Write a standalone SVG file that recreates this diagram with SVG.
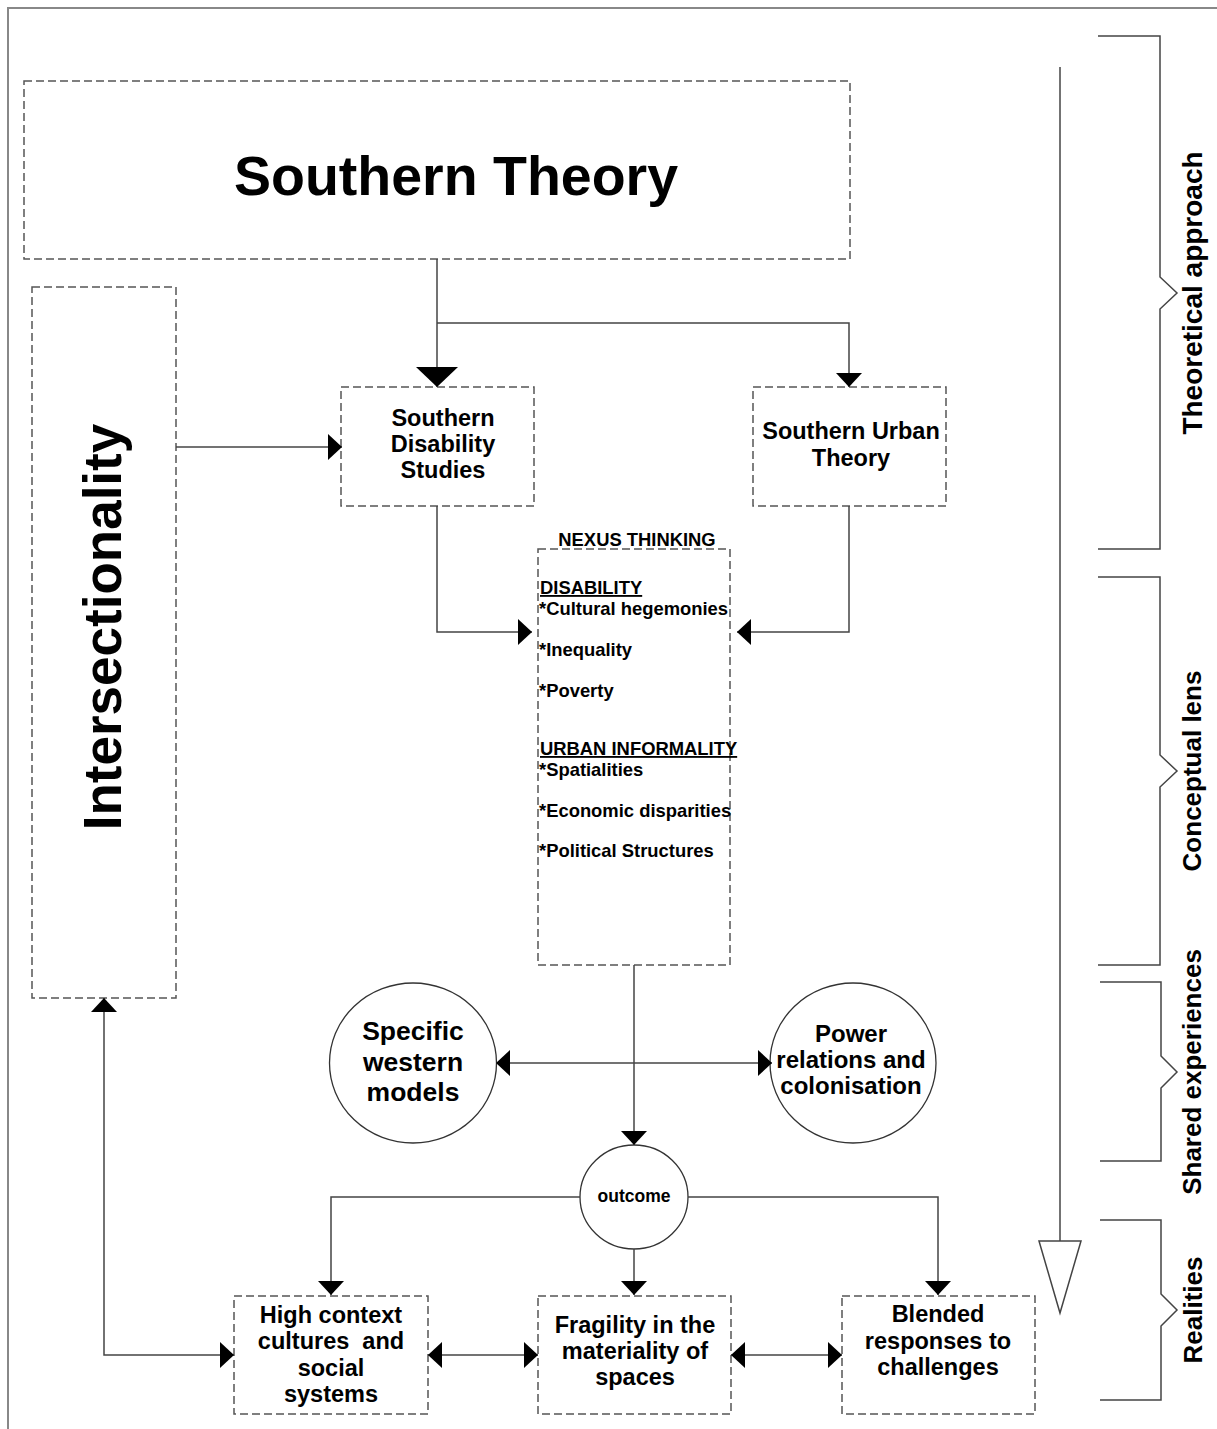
<svg xmlns="http://www.w3.org/2000/svg" width="1217" height="1429" viewBox="0 0 1217 1429">
  <style>
    .box { fill: #fff; stroke: #555; stroke-width: 1.5; stroke-dasharray: 8 4; }
    .ell { fill: #fff; stroke: #333; stroke-width: 1.3; }
    .ln { fill: none; stroke: #444; stroke-width: 1.5; }
    .frame { fill: none; stroke: #888; stroke-width: 2; }
    text { font-family: "Liberation Sans", Arial, sans-serif; font-weight: bold; fill: #000; }
    .c { text-anchor: middle; }
    .lbl { font-size: 23.5px; }
    .nx { font-size: 18.4px; }
    .side { font-size: 26px; text-anchor: middle; }
    .side.big { font-size: 28px; }
  </style>
  <defs>
    <marker id="ah" viewBox="0 0 14 26" refX="14" refY="13" markerWidth="14" markerHeight="26" orient="auto-start-reverse" markerUnits="userSpaceOnUse">
      <path d="M0,0 L14,13 L0,26 Z" fill="#000"/>
    </marker>
    <marker id="ahBig" viewBox="0 0 20 42" refX="20" refY="21" markerWidth="20" markerHeight="42" orient="auto" markerUnits="userSpaceOnUse">
      <path d="M0,0 L20,21 L0,42 Z" fill="#000"/>
    </marker>
  </defs>

  <rect width="1217" height="1429" fill="#fff"/>

  <g id="frame">
    <path class="frame" d="M8,1429 V8 H1217"/>
  </g>

  <g id="southern-theory">
    <rect class="box" x="24" y="81" width="826" height="178"/>
    <text class="c" x="456" y="195" font-size="55.5">Southern Theory</text>
  </g>

  <g id="intersectionality">
    <rect class="box" x="32" y="287" width="144" height="711"/>
    <text class="c" transform="translate(121,627) rotate(-90)" font-size="53">Intersectionality</text>
  </g>

  <g id="southern-disability-studies">
    <rect class="box" x="341" y="387" width="193" height="119"/>
    <text class="c lbl" x="443" y="426">Southern</text>
    <text class="c lbl" x="443" y="452">Disability</text>
    <text class="c lbl" x="443" y="478">Studies</text>
  </g>

  <g id="southern-urban-theory">
    <rect class="box" x="753" y="387" width="193" height="119"/>
    <text class="c lbl" x="851" y="439">Southern Urban</text>
    <text class="c lbl" x="851" y="466">Theory</text>
  </g>

  <g id="nexus-thinking">
    <text class="c nx" x="637" y="546">NEXUS THINKING</text>
    <rect class="box" x="538" y="549" width="192" height="416"/>
    <text class="nx" x="540" y="594" text-decoration="underline">DISABILITY</text>
    <text class="nx" x="539" y="615">*Cultural hegemonies</text>
    <text class="nx" x="539" y="656">*Inequality</text>
    <text class="nx" x="539" y="697">*Poverty</text>
    <text class="nx" x="540" y="755" text-decoration="underline">URBAN INFORMALITY</text>
    <text class="nx" x="539" y="776">*Spatialities</text>
    <text class="nx" x="539" y="817">*Economic disparities</text>
    <text class="nx" x="539" y="857">*Political Structures</text>
  </g>

  <g id="specific-western-models">
    <ellipse class="ell" cx="413" cy="1063" rx="83.5" ry="80"/>
    <text class="c" x="413" y="1040" font-size="26.5">Specific</text>
    <text class="c" x="413" y="1071" font-size="26.5">western</text>
    <text class="c" x="413" y="1101" font-size="26.5">models</text>
  </g>

  <g id="power-relations">
    <ellipse class="ell" cx="853" cy="1063" rx="83" ry="80"/>
    <text class="c" x="851" y="1042" font-size="24">Power</text>
    <text class="c" x="851" y="1068" font-size="24">relations and</text>
    <text class="c" x="851" y="1094" font-size="24">colonisation</text>
  </g>

  <g id="outcome">
    <ellipse class="ell" cx="634" cy="1197" rx="54" ry="52"/>
    <text class="c" x="634" y="1202" font-size="17.5">outcome</text>
  </g>

  <g id="high-context">
    <rect class="box" x="234" y="1296" width="194" height="118"/>
    <text class="c lbl" x="331" y="1323">High context</text>
    <text class="c lbl" x="331" y="1349" xml:space="preserve">cultures  and</text>
    <text class="c lbl" x="331" y="1376">social</text>
    <text class="c lbl" x="331" y="1402">systems</text>
  </g>

  <g id="fragility">
    <rect class="box" x="538" y="1296" width="193" height="118"/>
    <text class="c lbl" x="635" y="1333">Fragility in the</text>
    <text class="c lbl" x="635" y="1359">materiality of</text>
    <text class="c lbl" x="635" y="1385">spaces</text>
  </g>

  <g id="blended">
    <rect class="box" x="842" y="1296" width="193" height="118"/>
    <text class="c lbl" x="938" y="1322">Blended</text>
    <text class="c lbl" x="938" y="1349">responses to</text>
    <text class="c lbl" x="938" y="1375">challenges</text>
  </g>

  <g id="connectors">
    <path class="ln" d="M437,259 V387" marker-end="url(#ahBig)"/>
    <path class="ln" d="M437,323 H849 V387" marker-end="url(#ah)"/>
    <path class="ln" d="M176,447 H342" marker-end="url(#ah)"/>
    <path class="ln" d="M437,506 V632 H532" marker-end="url(#ah)"/>
    <path class="ln" d="M849,506 V632 H737" marker-end="url(#ah)"/>
    <path class="ln" d="M634,965 V1145" marker-end="url(#ah)"/>
    <path class="ln" d="M496,1063 H772" marker-start="url(#ah)" marker-end="url(#ah)"/>
    <path class="ln" d="M580,1197 H331 V1295" marker-end="url(#ah)"/>
    <path class="ln" d="M634,1249 V1295" marker-end="url(#ah)"/>
    <path class="ln" d="M688,1197 H938 V1295" marker-end="url(#ah)"/>
    <path class="ln" d="M428,1355 H538" marker-start="url(#ah)" marker-end="url(#ah)"/>
    <path class="ln" d="M731,1355 H842" marker-start="url(#ah)" marker-end="url(#ah)"/>
    <path class="ln" d="M104,998 V1355 H234" marker-start="url(#ah)" marker-end="url(#ah)"/>
  </g>

  <g id="progress-arrow">
    <path class="ln" d="M1060,67 V1241"/>
    <path d="M1039,1241 H1081 L1060,1313 Z" fill="#fff" stroke="#444" stroke-width="1.5"/>
  </g>

  <g id="bracket-theoretical">
    <path class="ln" d="M1098,36 H1160 V277 L1177,293 L1160,309 V549 H1098"/>
    <text class="side big" transform="translate(1202,293) rotate(-90)">Theoretical approach</text>
  </g>
  <g id="bracket-conceptual">
    <path class="ln" d="M1098,577 H1160 V755 L1177,771 L1160,787 V965 H1098"/>
    <text class="side" transform="translate(1201,771) rotate(-90)">Conceptual lens</text>
  </g>
  <g id="bracket-shared">
    <path class="ln" d="M1100,982 H1161 V1056 L1177,1072 L1161,1088 V1161 H1100"/>
    <text class="side" transform="translate(1201,1072) rotate(-90)">Shared experiences</text>
  </g>
  <g id="bracket-realities">
    <path class="ln" d="M1100,1220 H1161 V1294 L1177,1310 L1161,1326 V1400 H1100"/>
    <text class="side" transform="translate(1202,1310) rotate(-90)">Realities</text>
  </g>
</svg>
